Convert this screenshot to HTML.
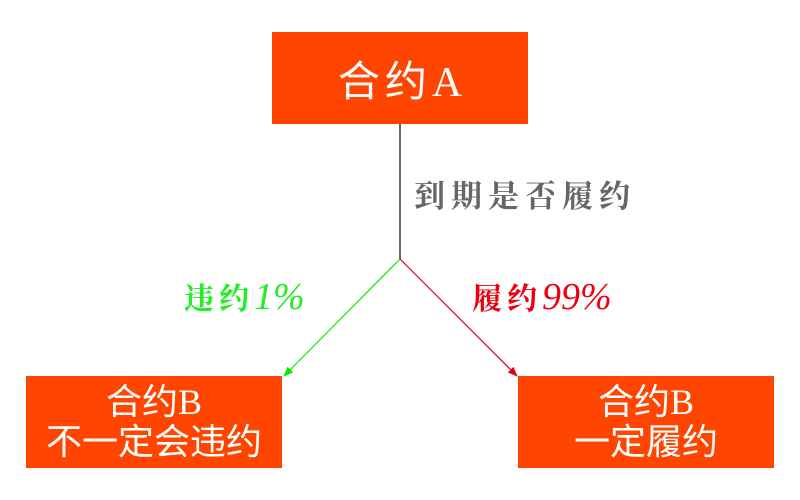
<!DOCTYPE html>
<html><head><meta charset="utf-8"><style>
body{margin:0;width:800px;height:500px;background:#fff;position:relative;overflow:hidden;font-family:"Liberation Serif","Noto Sans CJK SC",serif}
.box{position:absolute;background:#ff4500;color:#fff;text-align:center;display:flex;flex-direction:column;justify-content:center}
.lbl{position:absolute;font-family:"Liberation Serif","Noto Serif CJK SC",serif;font-weight:bold;white-space:nowrap}
</style></head><body>
<svg width="800" height="500" style="position:absolute;left:0;top:0">
<defs>
<marker id="g" markerWidth="10" markerHeight="10" refX="9" refY="5" orient="auto" markerUnits="userSpaceOnUse"><path d="M0,1 L10,5 L0,9 z" fill="#00ee00"/></marker>
<marker id="r" markerWidth="10" markerHeight="10" refX="9" refY="5" orient="auto" markerUnits="userSpaceOnUse"><path d="M0,1 L10,5 L0,9 z" fill="#dd0022"/></marker>
</defs>
<line x1="400" y1="124" x2="400" y2="259" stroke="#666" stroke-width="2"/>
<line x1="400" y1="259" x2="284" y2="376" stroke="#00ee00" stroke-width="1.2" marker-end="url(#g)"/>
<line x1="400" y1="259" x2="517" y2="376" stroke="#dd0022" stroke-width="1.2" marker-end="url(#r)"/>
</svg>
<div class="box" style="left:272px;top:32px;width:256px;height:92px;font-size:42px;letter-spacing:5px;padding-left:5px;box-sizing:border-box">合约A</div>
<div class="box" style="left:26px;top:376px;width:256px;height:92px;font-size:36px;line-height:40px"><div>合约B</div><div>不一定会违约</div></div>
<div class="box" style="left:518px;top:376px;width:256px;height:92px;font-size:36px;line-height:40px"><div>合约B</div><div>一定履约</div></div>
<div class="lbl" style="left:414px;top:171px;font-size:31px;letter-spacing:6px;color:#666">到期是否履约</div>
<div class="lbl" style="left:184px;top:274px;font-size:30px;color:#22ee22;font-weight:normal"><b style="letter-spacing:5px">违约</b><i style="font-size:38px">1%</i></div>
<div class="lbl" style="left:472px;top:274px;font-size:30px;color:#ee0011;font-weight:normal"><b style="letter-spacing:5px">履约</b><i style="font-size:38px">99%</i></div>
</body></html>
